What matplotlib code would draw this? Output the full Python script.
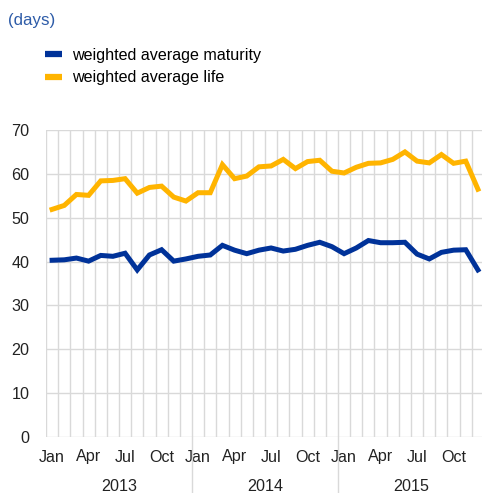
import numpy as np
import matplotlib
matplotlib.use("Agg")
import matplotlib.pyplot as plt
from matplotlib.lines import Line2D

plt.rcParams['font.family'] = ['Liberation Sans', 'DejaVu Sans']

# monthly data, Jan 2013 - Dec 2015
years = ["2013", "2014", "2015"]
month_labels = ["Jan", "Apr", "Jul", "Oct"]
wam = [40.3, 40.4, 40.8, 40.1, 41.4, 41.2, 41.9, 38.1, 41.5, 42.7, 40.1, 40.6,
       41.2, 41.5, 43.7, 42.6, 41.8, 42.6, 43.1, 42.4, 42.8, 43.7, 44.4, 43.4,
       41.8, 43.1, 44.8, 44.3, 44.3, 44.4, 41.7, 40.6, 42.1, 42.6, 42.7, 38.1]
wal = [51.9, 52.8, 55.3, 55.1, 58.4, 58.5, 58.9, 55.6, 56.9, 57.2, 54.7, 53.8,
       55.7, 55.7, 62.1, 58.9, 59.5, 61.6, 61.8, 63.3, 61.2, 62.8, 63.1, 60.6,
       60.2, 61.5, 62.4, 62.5, 63.3, 65.0, 62.9, 62.5, 64.4, 62.4, 62.9, 56.5]

blue = '#003299'
yellow = '#ffb400'
grid_c = '#d9d9d9'
txt_c = '#222222'
fs = 11.6

fig = plt.figure(figsize=(4.82, 4.93), dpi=100)
ax = fig.add_axes([46 / 482, 56 / 493, 438 / 482, 307 / 493])

x = np.arange(len(wam))
ax.plot(x, wam, color=blue, lw=3.6, solid_joinstyle='miter')
ax.plot(x, wal, color=yellow, lw=3.6, solid_joinstyle='miter')

ax.set_xlim(-0.5, len(wam) - 0.5)
ax.set_ylim(0, 70)

# grid: one vertical line per month boundary
for b in np.arange(-0.5, len(wam), 1.0):
    ax.axvline(b, color=grid_c, lw=1, zorder=0)
for v in range(0, 71, 10):
    ax.axhline(v, color=grid_c, lw=1, zorder=0)

for s in ax.spines.values():
    s.set_visible(False)

ax.set_yticks(range(0, 71, 10))
ax.tick_params(axis='y', length=0, pad=12, labelsize=fs, labelcolor=txt_c)

ticks = [i for i in range(len(wam)) if i % 3 == 0]
ax.set_xticks(ticks)
ax.set_xticklabels([month_labels[(i % 12) // 3] for i in ticks])
ax.tick_params(axis='x', length=0, pad=9, labelsize=fs, labelcolor=txt_c)

# year separators and labels below the axis
for k in range(1, len(years)):
    xb = k * 12 - 0.5
    ax.add_line(Line2D([xb, xb], [0, -0.19], transform=ax.get_xaxis_transform(),
                       color=grid_c, lw=1, clip_on=False))
for k, y in enumerate(years):
    ax.text(k * 12 + 5.5, -0.16, y, transform=ax.get_xaxis_transform(),
            ha='center', va='center', fontsize=fs, color=txt_c)

fig.text(8 / 482, 1 - 20 / 493, "(days)", color='#2e5ca8', fontsize=12.2,
         ha='left', va='center')

handles = [Line2D([], [], color=blue, lw=4.5, solid_capstyle='butt'),
           Line2D([], [], color=yellow, lw=4.5, solid_capstyle='butt')]
fig.legend(handles, ["weighted average maturity", "weighted average life"],
           loc='upper left', bbox_to_anchor=(45 / 482, 1 - 48 / 493),
           frameon=False, fontsize=fs, handlelength=1.08, handletextpad=0.62,
           labelspacing=0.45, borderaxespad=0, borderpad=0)

fig.savefig("out.png", dpi=100)
